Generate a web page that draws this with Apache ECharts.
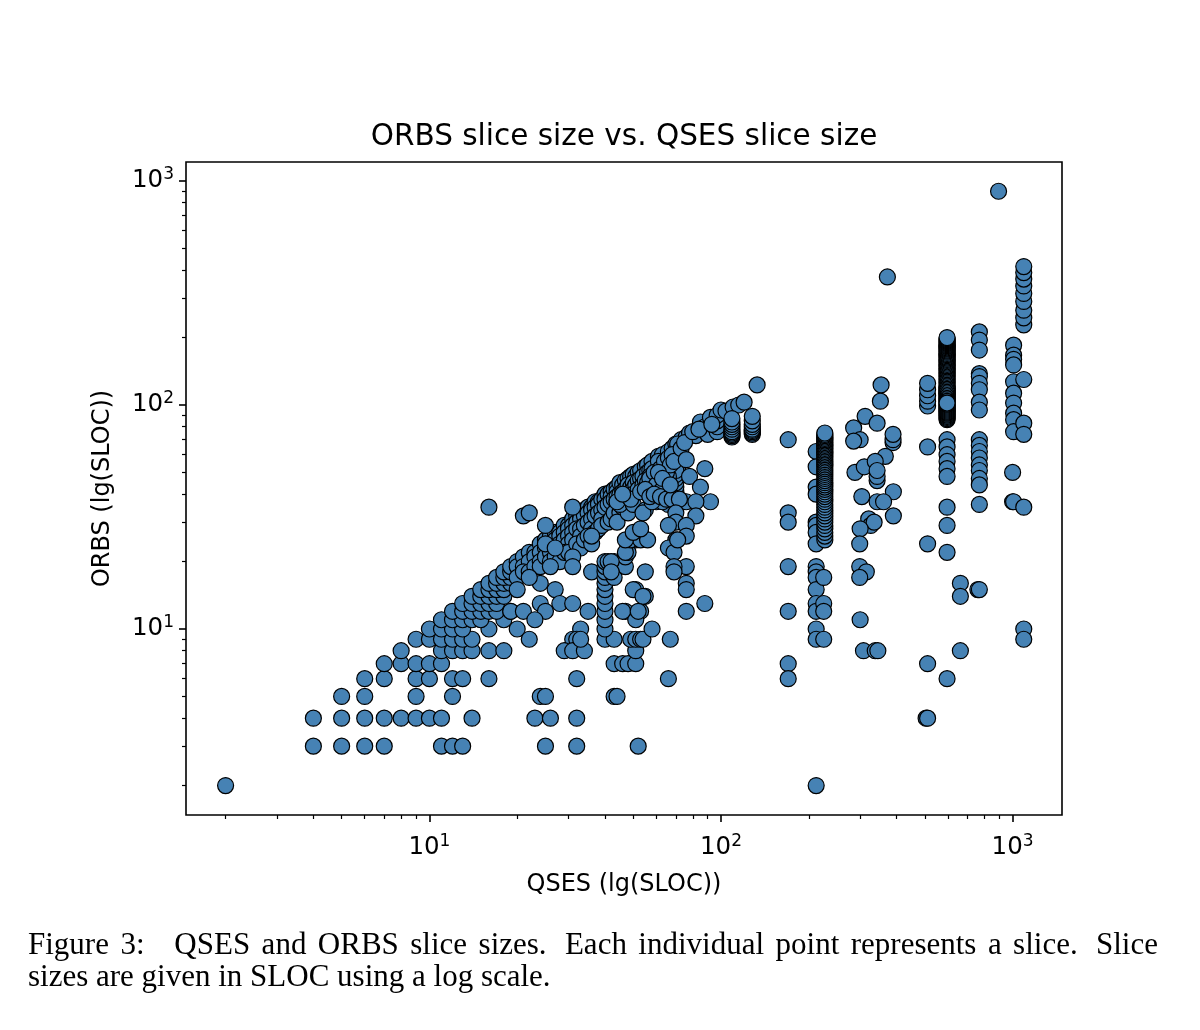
<!DOCTYPE html>
<html>
<head>
<meta charset="utf-8">
<title>ORBS slice size vs. QSES slice size</title>
<script src="https://cdn.jsdelivr.net/npm/echarts@6.0.0/dist/echarts.min.js"></script>
<style>
  html, body { margin: 0; padding: 0; background: #fff; }
  #main { width: 1200px; height: 1030px; }
</style>
</head>
<body>
<div id="main"></div>
<script>
// slices as [QSES size, ORBS size] in SLOC
var smallSlices = [
  [2, 2],
  [4, 3], [5, 3], [6, 3], [7, 3], [11, 3], [12, 3], [13, 3],
  [4, 4], [5, 4], [6, 4], [7, 4], [8, 4], [9, 4], [10, 4], [11, 4], [14, 4],
  [5, 5], [6, 5], [9, 5], [12, 5],
  [6, 6], [7, 6], [9, 6], [10, 6], [12, 6], [13, 6], [16, 6],
  [7, 7], [8, 7], [9, 7], [10, 7], [11, 7],
  [8, 8], [11, 8], [12, 8], [13, 8], [14, 8], [16, 8], [18, 8],
  [9, 9], [10, 9], [11, 9], [12, 9], [13, 9], [14, 9],
  [10, 10], [11, 10], [12, 10], [13, 10], [16, 10],
  [11, 11], [12, 11], [13, 11], [14, 11], [15, 11], [18, 11],
  [12, 12], [13, 12], [14, 12], [15, 12], [16, 12], [17, 12], [19, 12],
  [13, 13], [14, 13], [15, 13], [16, 13], [17, 13],
  [14, 14], [15, 14], [16, 14], [17, 14], [18, 14],
  [15, 15], [16, 15], [17, 15], [18, 15],
  [16, 16], [17, 16], [18, 16], [19, 16],
  [17, 17], [18, 17], [19, 17],
  [18, 18], [19, 18],
  [19, 19]
];

var midSlices = [
  // upper edge of the band
  [20, 20], [20, 19], [21, 21], [21, 19], [22, 22], [22, 20], [23, 22], [23, 21],
  [24, 24], [24, 22], [25, 25], [25, 23], [26, 26], [26, 24], [27, 27], [27, 25],
  [28, 27], [28, 26], [29, 29], [29, 27], [30, 29], [30, 28], [31, 31], [31, 29],
  [32, 32], [32, 30], [33, 32], [33, 31], [34, 34], [34, 32], [35, 35], [35, 33],
  [36, 35], [36, 34], [37, 37], [37, 35], [38, 37], [38, 36], [39, 38], [40, 40],
  [40, 38], [41, 40], [42, 41], [42, 39], [43, 42], [44, 43], [44, 41], [45, 45],
  [46, 44], [47, 46], [48, 47], [49, 48], [50, 49], [51, 48], [52, 50], [53, 51],
  [55, 53], [56, 54], [58, 56],
  // inside the band
  [20, 17], [21, 18], [22, 18], [23, 19], [24, 20], [24, 19], [25, 21], [26, 22],
  [26, 20], [27, 23], [28, 24], [28, 22], [29, 25], [30, 26], [30, 24], [31, 27],
  [31, 25], [32, 28], [33, 28], [33, 26], [34, 29], [35, 30], [36, 31], [36, 28],
  [37, 32], [38, 33], [39, 34], [39, 31], [40, 35], [41, 36], [42, 37], [43, 38],
  [44, 39], [44, 37], [45, 40], [46, 41], [46, 38], [47, 42], [48, 44], [49, 43],
  [50, 45], [50, 42], [51, 44], [52, 46], [53, 47], [54, 48], [56, 50], [57, 51],
  [58, 52],
  [27, 21], [28, 20], [29, 22], [30, 22], [32, 24], [33, 23], [34, 25], [35, 26],
  [36, 24], [37, 27], [38, 28], [39, 29], [41, 30], [42, 31], [43, 33], [45, 33],
  [46, 35], [47, 36], [48, 38], [50, 40], [52, 42], [54, 44], [55, 46], [57, 48],
  // above the band
  [16, 35], [21, 32], [22, 33], [31, 35], [25, 29],
  // below the band
  [31, 21], [31, 19], [36, 26], [26, 19], [27, 15], [24, 16], [24, 13], [25, 12],
  [28, 13], [31, 13], [35, 12], [36, 18], [19, 12], [21, 12], [20, 10], [22, 9],
  [23, 11], [33, 10], [31, 9], [32, 9], [20, 15], [22, 17], [25, 24], [27, 23],
  [25, 3], [32, 3], [52, 3], [23, 4], [26, 4], [32, 4], [24, 5], [25, 5], [43, 5],
  [44, 5], [32, 6], [43, 7], [46, 7], [48, 7], [51, 7], [29, 8], [31, 8], [34, 8],
  [51, 8], [33, 9], [40, 9], [43, 9], [49, 9], [51, 9], [53, 9],
  [40, 10], [40, 11], [40, 12], [40, 13], [40, 14], [40, 15], [40, 16], [40, 17],
  [40, 18], [40, 19], [40, 20], [41, 20],
  [43, 20], [43, 18], [43, 17], [47, 19], [47, 21], [48, 22], [51, 25], [53, 27],
  [55, 18], [51, 15], [55, 14], [47, 12], [53, 12], [51, 11], [54, 9], [50, 15],
  [54, 14], [46, 12], [52, 12], [42, 20], [42, 18], [47, 22], [49, 25], [53, 25],
  [56, 25], [47, 25], [50, 27], [53, 28], [44, 30], [48, 33], [45, 36], [50, 36],
  [55, 34], [44, 37], [49, 38], [46, 40], [53, 41], [56, 45], [54, 33]
];

var topSlices = [
  [61, 59], [63, 60], [66, 62], [68, 64], [70, 67], [73, 70], [76, 72], [78, 75],
  [82, 73], [85, 84], [88, 80], [90, 74], [92, 88], [97, 76], [97, 80], [97, 85],
  [97, 90], [100, 95], [104, 94], [110, 98], [115, 100], [120, 103], [133, 123],
  [109, 72], [109, 73], [109, 74], [109, 75], [109, 76], [109, 78], [109, 80],
  [109, 82], [109, 84], [109, 87],
  [128, 74], [128, 75], [128, 76], [128, 77], [128, 78], [128, 80], [128, 82],
  [128, 85], [128, 89],
  [71, 52], [71, 55], [71, 58], [71, 61], [71, 64], [71, 67],
  [70, 35], [70, 37], [70, 39], [70, 41], [70, 43], [70, 45], [70, 47], [70, 49], [70, 51],
  [66, 36], [66, 38], [66, 40], [66, 43], [66, 46], [66, 48],
  [61, 56], [64, 53], [60, 48], [62, 45], [58, 42], [64, 40], [60, 37], [63, 37],
  [58, 37], [73, 37], [76, 37], [57, 47], [59, 50], [62, 52], [64, 56], [66, 58],
  [68, 60], [60, 44], [63, 42], [65, 50], [67, 54], [55, 42], [57, 39], [59, 40],
  [62, 39], [65, 38], [68, 38], [72, 38], [61, 50], [63, 47], [67, 44], [69, 56],
  [73, 64], [75, 68], [80, 76], [84, 78], [93, 82],
  [76, 57], [88, 52], [78, 48], [85, 43], [92, 37], [82, 37], [82, 32], [70, 33],
  [70, 30], [76, 29], [66, 29], [76, 26], [70, 25], [66, 23], [69, 22], [71, 25],
  [76, 19], [69, 19], [69, 18], [76, 16], [76, 15], [76, 12], [88, 13], [67, 9],
  [66, 6], [58, 10]
];

var midColumnSlices = [
  [170, 70], [170, 33], [170, 30], [170, 19], [170, 12], [170, 7], [170, 6],
  [212, 62], [212, 53], [212, 43], [212, 40], [212, 30], [212, 29], [212, 27],
  [212, 24], [212, 19], [212, 18], [212, 17], [212, 15], [212, 13], [212, 12],
  [212, 10], [212, 9], [212, 2],
  [225, 17], [225, 13], [225, 12], [225, 9],
  [227, 25], [227, 26], [227, 27], [227, 28], [227, 29], [227, 30], [227, 31],
  [227, 32], [227, 33], [227, 34], [227, 35], [227, 36], [227, 37], [227, 38],
  [227, 39], [227, 40], [227, 41], [227, 42], [227, 43], [227, 44], [227, 45],
  [227, 46], [227, 47], [227, 48], [227, 49], [227, 50], [227, 51], [227, 52],
  [227, 53], [227, 54], [227, 55], [227, 56], [227, 57], [227, 58], [227, 59],
  [227, 60], [227, 61], [227, 62], [227, 63], [227, 64], [227, 65], [227, 66],
  [227, 67], [227, 68], [227, 69], [227, 70], [227, 71], [227, 72], [227, 73],
  [227, 74], [227, 75],
  [285, 79], [300, 70], [285, 69], [288, 50], [310, 53], [312, 89], [343, 83],
  [352, 104], [354, 123], [389, 68], [389, 70], [389, 74], [366, 59], [338, 56],
  [343, 46], [343, 48], [343, 51], [390, 41], [304, 39], [343, 37], [361, 37],
  [390, 32], [321, 31], [326, 29], [335, 30], [300, 28], [299, 24], [299, 19],
  [315, 18], [299, 17], [300, 11], [308, 8], [338, 8], [345, 8], [372, 373]
];

var largeSlices = [
  [511, 99], [511, 104], [511, 110], [511, 117], [511, 125], [511, 65], [511, 24],
  [511, 7], [505, 4], [511, 4],
  [596, 86], [596, 87], [596, 88], [596, 89], [596, 90], [596, 91], [596, 92],
  [596, 93], [596, 94], [596, 95], [596, 96], [596, 97], [596, 98], [596, 99],
  [596, 100], [596, 101], [596, 103], [596, 104], [596, 105], [596, 106],
  [596, 107], [596, 108], [596, 109], [596, 110], [596, 111], [596, 112],
  [596, 113], [596, 114], [596, 115], [596, 116], [596, 117], [596, 118],
  [596, 119], [596, 120], [596, 122], [596, 124], [596, 126], [596, 128],
  [596, 130], [596, 132], [596, 134], [596, 136], [596, 138], [596, 140],
  [596, 142], [596, 144], [596, 146], [596, 148], [596, 150], [596, 152],
  [596, 154], [596, 156], [596, 158], [596, 160], [596, 162], [596, 164],
  [596, 166], [596, 168], [596, 170], [596, 172], [596, 174], [596, 176],
  [596, 178], [596, 180], [596, 182], [596, 184], [596, 186], [596, 188],
  [596, 190], [596, 192], [596, 194], [596, 196], [596, 198], [596, 200],
  [596, 102], [596, 70], [596, 65], [596, 60], [596, 56], [596, 52], [596, 48],
  [596, 35], [596, 29], [596, 22], [596, 6],
  [662, 16], [662, 14], [662, 8],
  [769, 212], [769, 195], [769, 176], [769, 138], [769, 134], [769, 125],
  [769, 117], [769, 103], [769, 95], [769, 70], [769, 66], [769, 62], [769, 58],
  [769, 54], [769, 51], [769, 47], [769, 44], [769, 36], [760, 15], [769, 15],
  [1008, 185], [1008, 167], [1008, 160], [1008, 151], [1008, 127], [1008, 113],
  [1008, 102], [1008, 92], [1008, 86], [1008, 76], [1000, 50], [1000, 37], [1008, 37],
  [1092, 228], [1092, 245], [1092, 265], [1092, 290], [1092, 315], [1092, 340],
  [1092, 365], [1092, 390], [1092, 415], [1092, 130], [1092, 83], [1092, 74],
  [1092, 35], [1092, 10], [1092, 9],
  [895, 900]
];

var majorTicks = [10, 100, 1000];
var minorTicks = [2, 3, 4, 5, 6, 7, 8, 9, 20, 30, 40, 50, 60, 70, 80, 90,
                  200, 300, 400, 500, 600, 700, 800, 900];

var titleText = 'ORBS slice size vs. QSES slice size';
var captionLine1 = ['Figure', '3:', 'QSES', 'and', 'ORBS', 'slice', 'sizes.', 'Each',
                    'individual', 'point', 'represents', 'a', 'slice.', 'Slice'];
var captionLine2 = 'sizes are given in SLOC using a log scale.';

var slices = smallSlices.concat(midSlices, topSlices, midColumnSlices, largeSlices);

// 基于准备好的dom，初始化echarts实例
var myChart = echarts.init(document.getElementById('main'));

// 10^k 刻度标签
function powerLabel(v) {
    return '{b|10}{s|' + Math.round(Math.log10(v)) + '}';
}
var powerRich = {
    b: { fontSize: 24.5, lineHeight: 30, fontFamily: 'DejaVu Sans', color: '#000' },
    s: { fontSize: 17, lineHeight: 15, fontFamily: 'DejaVu Sans', color: '#000', verticalAlign: 'top' }
};

// caption: justify the first line like TeX does
var captionFont = '31px "Liberation Serif"';
var ctx = document.createElement('canvas').getContext('2d');
ctx.font = captionFont;
var gapWeights = [1, 2.6, 1, 1, 1, 1, 1.6, 1, 1, 1, 1, 1, 1.6];
var wordsWidth = 0;
captionLine1.forEach(function (w) { wordsWidth += ctx.measureText(w).width; });
var weightSum = gapWeights.reduce(function (a, b) { return a + b; }, 0);
var unitGap = (1158 - 28 - wordsWidth) / weightSum;
var captionItems = [];
var cx = 28;
captionLine1.forEach(function (w, i) {
    captionItems.push({
        type: 'text', x: cx, y: 946, silent: true,
        style: { text: w, font: captionFont, fill: '#000', align: 'left', verticalAlign: 'middle' }
    });
    cx += ctx.measureText(w).width + (i < gapWeights.length ? gapWeights[i] * unitGap : 0);
});
captionItems.push({
    type: 'text', x: 28, y: 978, silent: true,
    style: { text: captionLine2, font: captionFont, fill: '#000', align: 'left', verticalAlign: 'middle' }
});

var option = {
    animation: false,
    textStyle: { fontFamily: 'DejaVu Sans' },
    grid: {
        left: 186, top: 162, width: 876, height: 653,
        show: true, borderColor: '#000', borderWidth: 1.6, backgroundColor: '#fff'
    },
    graphic: [{
        type: 'text', x: 624, y: 137, silent: true,
        style: { text: titleText, font: '29.5px "DejaVu Sans"', fill: '#000', align: 'center', verticalAlign: 'middle' }
    }].concat(captionItems),
    xAxis: [{
        type: 'log', logBase: 10, min: 1.463, max: 1477,
        name: 'QSES (lg(SLOC))', nameLocation: 'middle', nameGap: 58,
        nameTextStyle: { fontSize: 24, color: '#000', fontFamily: 'DejaVu Sans' },
        axisLine: { show: false },
        splitLine: { show: false },
        axisTick: { customValues: majorTicks, length: 7, lineStyle: { color: '#000', width: 1.6 } },
        axisLabel: { customValues: majorTicks, margin: 18, formatter: powerLabel, rich: powerRich }
    }, {
        // 次刻度
        type: 'log', logBase: 10, min: 1.463, max: 1477, position: 'bottom',
        axisLine: { show: false }, splitLine: { show: false },
        axisLabel: { show: false },
        axisTick: { customValues: minorTicks, length: 4, lineStyle: { color: '#000', width: 1.2 } }
    }],
    yAxis: [{
        type: 'log', logBase: 10, min: 1.478, max: 1216,
        name: 'ORBS (lg(SLOC))', nameLocation: 'middle', nameGap: 71,
        nameTextStyle: { fontSize: 24, color: '#000', fontFamily: 'DejaVu Sans' },
        axisLine: { show: false },
        splitLine: { show: false },
        axisTick: { customValues: majorTicks, length: 7, lineStyle: { color: '#000', width: 1.6 } },
        axisLabel: { customValues: majorTicks, margin: 12, formatter: powerLabel, rich: powerRich }
    }, {
        type: 'log', logBase: 10, min: 1.478, max: 1216, position: 'left',
        axisLine: { show: false }, splitLine: { show: false },
        axisLabel: { show: false },
        axisTick: { customValues: minorTicks, length: 4, lineStyle: { color: '#000', width: 1.2 } }
    }],
    series: [{
        name: 'slices',
        type: 'scatter',
        xAxisIndex: 0,
        yAxisIndex: 0,
        symbol: 'circle',
        symbolSize: 16,
        data: slices,
        itemStyle: { color: '#4682b4', borderColor: '#000', borderWidth: 1.2, opacity: 1 }
    }]
};

// 使用刚指定的配置项和数据显示图表。
myChart.setOption(option);
</script>
</body>
</html>
